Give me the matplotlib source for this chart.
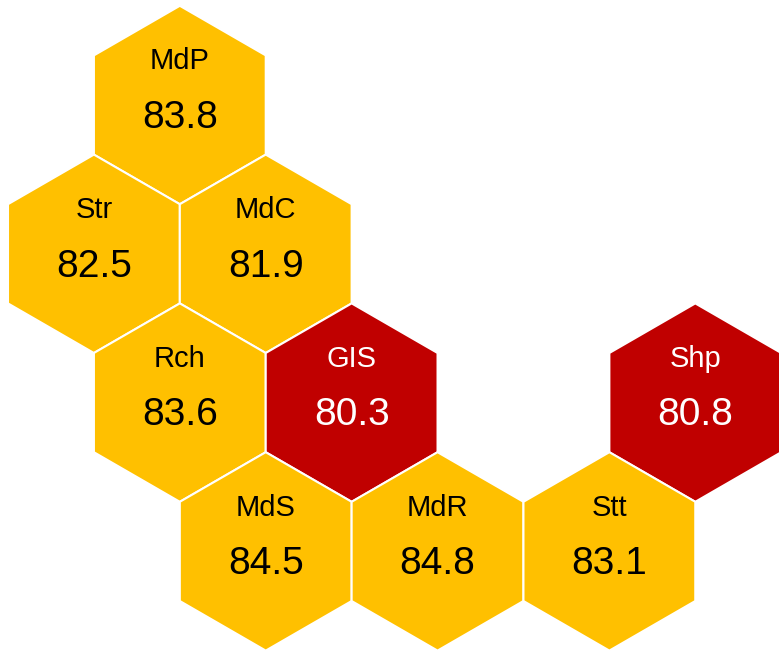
import numpy as np
import matplotlib.pyplot as plt
from matplotlib.patches import RegularPolygon

plt.rcParams['font.family'] = ['Liberation Sans', 'DejaVu Sans']

# tile map data
names = ['MdP', 'Str', 'MdC', 'Rch', 'GIS', 'Shp', 'MdS', 'MdR', 'Stt']
values = [83.8, 82.5, 81.9, 83.6, 80.3, 80.8, 84.5, 84.8, 83.1]
cols = [2, 1, 3, 2, 4, 8, 3, 5, 7]   # half-hex column index
rows = [0, 1, 1, 2, 2, 2, 3, 3, 3]

threshold = 81.0
low_color = '#C00000'
high_color = '#FFC000'

fig = plt.figure(figsize=(7.79, 6.51), dpi=100)
ax = fig.add_axes([0, 0, 1, 1])

scale = 99.2  # pixels per hex radius
for name, val, c, r in zip(names, values, cols, rows):
    x = c * np.sqrt(3) / 2
    y = r * 1.5
    low = val < threshold
    hexagon = RegularPolygon((x, y), numVertices=6, radius=1.0, orientation=0,
                             facecolor=low_color if low else high_color,
                             edgecolor='white', linewidth=1.5)
    ax.add_patch(hexagon)
    tc = 'white' if low else 'black'
    ax.text(x, y - 0.44, name, ha='center', va='center', fontsize=21, color=tc)
    ax.text(x, y + 0.13, f'{val:.1f}', ha='center', va='center', fontsize=28, color=tc)

ax.set_xlim(-8 / scale, (779 - 8) / scale)
ax.set_ylim((651 - 105) / scale, -105 / scale)
ax.set_aspect('auto')
ax.axis('off')

fig.savefig('out.png', dpi=100, facecolor='white')
